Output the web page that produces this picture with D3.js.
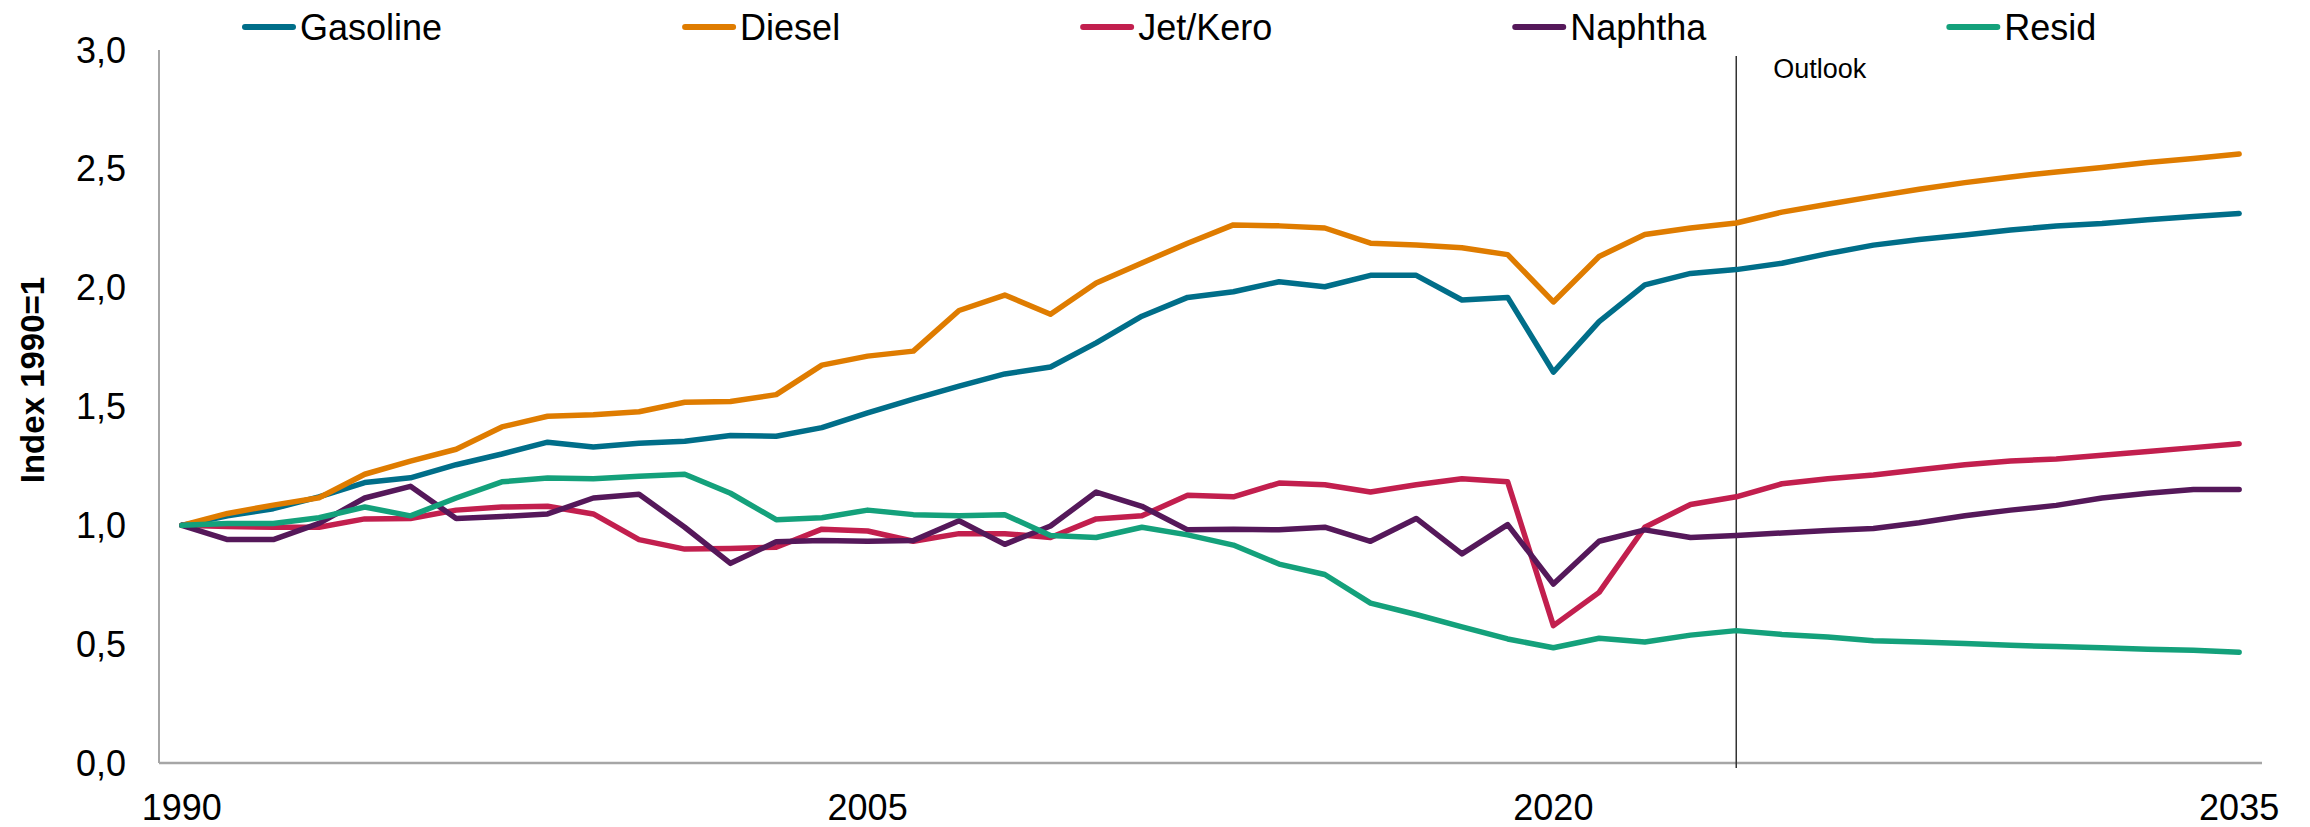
<!DOCTYPE html>
<head>
  <script src="https://d3js.org/d3.v7.min.js"></script>
  <meta charset='utf-8'>
  <style>
    body { margin: 0; background: #fff; }
    svg text { font-family: "Liberation Sans", Arial, sans-serif; fill: #000; }
  </style>
</head>
<body>
<div id="chart"></div>
<script>

var years = [1990, 1991, 1992, 1993, 1994, 1995, 1996, 1997, 1998, 1999,
             2000, 2001, 2002, 2003, 2004, 2005, 2006, 2007, 2008, 2009,
             2010, 2011, 2012, 2013, 2014, 2015, 2016, 2017, 2018, 2019,
             2020, 2021, 2022, 2023, 2024, 2025, 2026, 2027, 2028, 2029,
             2030, 2031, 2032, 2033, 2034, 2035];

var gasoline = [1.00, 1.04, 1.07, 1.12, 1.18, 1.20, 1.255, 1.30, 1.35, 1.33,
                1.345, 1.354, 1.378, 1.375, 1.411, 1.473, 1.531, 1.586, 1.637, 1.666,
                1.768, 1.88, 1.959, 1.983, 2.025, 2.004, 2.052, 2.052, 1.948, 1.959,
                1.645, 1.857, 2.012, 2.06, 2.076, 2.103, 2.143, 2.179, 2.203, 2.222,
                2.243, 2.259, 2.27, 2.286, 2.299, 2.312];

var diesel = [1.00, 1.05, 1.085, 1.116, 1.215, 1.27, 1.32, 1.414, 1.459, 1.465,
              1.478, 1.518, 1.521, 1.55, 1.674, 1.712, 1.733, 1.904, 1.969, 1.888,
              2.02, 2.104, 2.187, 2.264, 2.26, 2.251, 2.187, 2.18, 2.168, 2.139,
              1.94, 2.131, 2.224, 2.251, 2.272, 2.318, 2.351, 2.383, 2.414, 2.442,
              2.466, 2.487, 2.506, 2.527, 2.543, 2.562];

var jetKero = [1.00, 0.995, 0.992, 0.992, 1.027, 1.029, 1.064, 1.077, 1.08, 1.048,
               0.94, 0.90, 0.903, 0.908, 0.984, 0.976, 0.933, 0.965, 0.965, 0.949,
               1.027, 1.04, 1.127, 1.12, 1.178, 1.171, 1.14, 1.171, 1.196, 1.183,
               0.578, 0.718, 0.992, 1.088, 1.12, 1.175, 1.196, 1.212, 1.234, 1.255,
               1.271, 1.279, 1.295, 1.311, 1.327, 1.343];

var naphtha = [1.00, 0.94, 0.94, 1.008, 1.115, 1.164, 1.029, 1.037, 1.048, 1.115,
               1.131, 0.992, 0.84, 0.931, 0.936, 0.933, 0.936, 1.019, 0.92, 0.997,
               1.14, 1.08, 0.981, 0.984, 0.981, 0.992, 0.933, 1.029, 0.88, 1.003,
               0.753, 0.933, 0.981, 0.949, 0.957, 0.968, 0.978, 0.987, 1.011, 1.04,
               1.064, 1.084, 1.115, 1.135, 1.151, 1.151];

var resid = [1.00, 1.008, 1.008, 1.032, 1.077, 1.04, 1.115, 1.183, 1.199, 1.196,
             1.207, 1.215, 1.135, 1.024, 1.032, 1.064, 1.045, 1.04, 1.045, 0.957,
             0.949, 0.992, 0.96, 0.917, 0.837, 0.793, 0.673, 0.625, 0.573, 0.522,
             0.485, 0.525, 0.509, 0.538, 0.557, 0.541, 0.53, 0.514, 0.509, 0.503,
             0.495, 0.49, 0.485, 0.479, 0.474, 0.466];

var seriesNames = ["Gasoline", "Diesel", "Jet/Kero", "Naphtha", "Resid"];
var seriesValues = [gasoline, diesel, jetKero, naphtha, resid];
var colors = ["#006E89", "#DF7C00", "#C21F4E", "#55185A", "#14A17B"];

var xTicks = [1990, 2005, 2020, 2035];
var yTicks = [0, 0.5, 1.0, 1.5, 2.0, 2.5, 3.0];
var outlookYear = 2024;

var width = 2310, height = 827;
var margin = {top: 50, right: 48, bottom: 64, left: 159};

var svg = d3.select("#chart").append("svg")
    .attr("width", width)
    .attr("height", height);

// x: date axis, points sit half a year inside the axis ends
var x = d3.scaleLinear()
    .domain([1989.5, 2035.5])
    .range([margin.left, width - margin.right]);

var y = d3.scaleLinear()
    .domain([0, 3])
    .range([height - margin.bottom, margin.top]);

// axes lines
svg.append("line")
    .attr("x1", x(1989.5)).attr("x2", x(1989.5))
    .attr("y1", y(3)).attr("y2", y(0))
    .attr("stroke", "#A6A6A6").attr("stroke-width", 2);

svg.append("line")
    .attr("x1", x(1989.5)).attr("x2", x(2035.5))
    .attr("y1", y(0)).attr("y2", y(0))
    .attr("stroke", "#A6A6A6").attr("stroke-width", 2.5);

// y tick labels
svg.append("g").selectAll("text")
  .data(yTicks)
  .join("text")
    .attr("x", margin.left - 33)
    .attr("y", d => y(d))
    .attr("dy", "0.35em")
    .attr("text-anchor", "end")
    .style("font-size", "36px")
    .text(d => d3.format(".1f")(d).replace(".", ","));

// x tick labels
svg.append("g").selectAll("text")
  .data(xTicks)
  .join("text")
    .attr("x", d => x(d))
    .attr("y", 820)
    .attr("text-anchor", "middle")
    .style("font-size", "36px")
    .text(d => d);

// y axis title
svg.append("text")
    .attr("transform", "translate(44,380) rotate(-90)")
    .attr("text-anchor", "middle")
    .style("font-size", "33px")
    .style("font-weight", "bold")
    .text("Index 1990=1");

// outlook divider
svg.append("line")
    .attr("x1", x(outlookYear)).attr("x2", x(outlookYear))
    .attr("y1", 56).attr("y2", y(0) + 5)
    .attr("stroke", "#333").attr("stroke-width", 1.5);

svg.append("text")
    .attr("x", x(outlookYear) + 37)
    .attr("y", 78)
    .style("font-size", "27px")
    .text("Outlook");

// lines
var line = d3.line()
    .x((d, i) => x(years[i]))
    .y(d => y(d));

svg.append("g").selectAll("path")
  .data(seriesValues)
  .join("path")
    .attr("fill", "none")
    .attr("stroke", (d, i) => colors[i])
    .attr("stroke-width", 5.5)
    .attr("stroke-linejoin", "round")
    .attr("stroke-linecap", "round")
    .attr("d", line);

// legend
var lx = 242;
seriesNames.forEach(function(name, i) {
  var g = svg.append("g").attr("transform", `translate(${lx},27)`);
  g.append("line")
    .attr("x1", 3).attr("x2", 51)
    .attr("stroke", colors[i])
    .attr("stroke-width", 6)
    .attr("stroke-linecap", "round");
  var t = g.append("text")
    .attr("x", 58)
    .attr("dy", "0.35em")
    .style("font-size", "36px")
    .text(name);
  lx += 58 + t.node().getComputedTextLength() + 240;
});

</script>
</body>
